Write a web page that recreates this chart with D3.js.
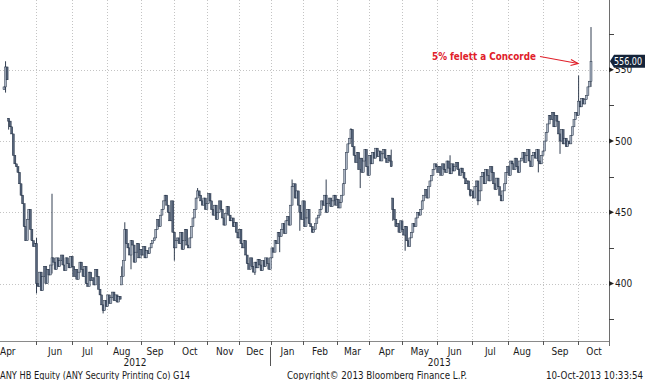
<!DOCTYPE html>
<html><head><meta charset="utf-8">
<script src="https://cdn.jsdelivr.net/npm/d3@7"></script>
<style>
html,body{margin:0;padding:0;background:#fff;}
svg{display:block;}
text{font-family:"DejaVu Sans Condensed","DejaVu Sans",sans-serif;}
</style></head>
<body><svg id="c" width="645" height="380"></svg>
<script>
// ---- data ----
const firstOpen = 536;
const closes = [
538,552,543,
514,510,505,490,484,
482,478,470,462,456,
440,430,445,452,438,
430,426,428,
400,
398,408,395,405,412,400,410,406,413,
418,
415,410,418,412,416,420,413,409,418,414,411,
419,412,405,410,403,408,415,
410,405,412,400,398,408,402,404,399,410,405,
396,392,385,381,388,384,392,386,
390,394,388,392,387,391,389,
405,416,438,428,
425,420,430,427,415,422,428,418,424,420,426,418,423,421,425,428,430,
432,438,445,440,448,452,458,462,455,
450,444,458,436,425,430,
432,428,436,424,430,438,427,425,432,
440,446,452,460,465,
462,458,455,460,452,456,463,458,
452,448,455,445,450,458,452,446,441,449,454,448,444,
446,440,443,436,432,438,428,425,430,420,
414,410,418,412,408,415,411,417,413,409,416,412,418,414,410,
418,425,422,430,428,436,433,
438,442,435,444,447,441,
455,468,470,460,465,455,
450,445,458,440,446,452,442,
440,436,438,442,446,
448,452,458,455,462,450,
456,460,454,458,462,455,459,453,457,462,
470,480,492,498,
502,508,496,
490,485,492,480,488,478,486,494,482,476,490,484,492,488,495,489,493,486,491,494,488,485,490,486,
482,
452,445,440,442,436,444,438,434,440,430,426,432,
436,442,440,446,450,448,
452,458,462,466,460,468,472,
476,480,484,482,
478,482,476,484,480,478,486,481,477,484,479,482,485,480,476,481,478,
474,470,472,466,462,465,460,
468,472,458,465,
475,478,470,480,476,472,482,478,470,466,474,
468,462,458,465,
470,478,482,476,486,
484,480,488,482,478,486,
488,492,485,490,494,486,482,490,
492,488,494,486,484,490,493,
500,506,512,518,
515,520,510,518,514,
505,500,508,498,502,496,500,498,504,
510,515,520,518,
528,524,530,526,529,532,
538,542,
556
];
// notable highs / lows: [bar, high, low]
const extremes = [
[1,556,534],[3,516,508],[21,432,393],[31,463,407],[64,null,379],[76,412,399],
[78,443,null],[82,null,410],[110,null,416],[125,467,null],[162,null,406],
[178,null,422],[186,473,null],[191,null,437],[208,473,null],[224,509,null],
[230,null,467],[250,494,null],[251,460,444],[259,null,423],[288,490,null],
[301,null,461],[306,null,455],[345,null,478],[359,null,491],[371,546,null],
[379,580,538]
];
const lastPrice = 556.00;
const monthLabels = ["Apr","Jun","Jul","Aug","Sep","Oct","Nov","Dec","Jan","Feb","Mar","Apr","May","Jun","Jul","Aug","Sep","Oct"];
const monthLabelBars = [3,33,54,76,97.5,120,142.5,162,183,204,225,247,268.5,291,314,334.5,359,381];
const monthGridBars = [20.7,43.9,66.5,88.4,109.7,131,151.7,172.4,193,215,235.6,257,279.5,302,325.4,348,370.6];
const yearLabels = ["2012","2013"];
const yearLabelBars = [84.6,281];
const yearSeparatorBar = 171.5;
const yMajor = [400,450,500,550];
const yMinor = [375,425,475,525,575];
const annotation = "5% felett a Concorde";
const footerLeft = "ANY HB Equity (ANY Security Printing Co) G14";
const footerMid = "Copyright\u00A9 2013 Bloomberg Finance L.P.";
const footerRight = "10-Oct-2013 10:33:54";

// ---- build ----
const N = closes.length;
const ext = new Map(extremes.map(e => [e[0], e]));
const bars = closes.map((c, i) => {
  const o = i === 0 ? firstOpen : closes[i-1];
  const e = ext.get(i);
  const hi = e && e[1] != null ? e[1] : Math.max(o, c);
  const lo = e && e[2] != null ? e[2] : Math.min(o, c);
  const top = Math.min(Math.max(o, c), hi);
  const bot = Math.max(Math.min(o, c), lo);
  return {i, o, c, hi, lo, top, bot, up: c >= o};
});

const svg = d3.select("#c");
const plotRight = 609, plotBottom = 341;
const x = d3.scaleLinear().domain([0, N-1]).range([4, 591]);
const y = d3.scaleLinear().domain([360, 599]).range([340.5, 0]);

// gridlines
const grid = svg.append("g").attr("stroke", "#c4c4c4").attr("stroke-width", 1).attr("stroke-dasharray", "1,2");
grid.selectAll("line.h").data(yMajor).join("line")
  .attr("x1", 0).attr("x2", plotRight).attr("y1", d => Math.round(y(d)) + 0.5).attr("y2", d => Math.round(y(d)) + 0.5);
grid.selectAll("line.v").data(monthGridBars).join("line")
  .attr("y1", 0).attr("y2", plotBottom).attr("x1", d => Math.round(x(d)) + 0.5).attr("x2", d => Math.round(x(d)) + 0.5);

// axes lines
svg.append("line").attr("x1", 0).attr("x2", plotRight).attr("y1", plotBottom + 0.5).attr("y2", plotBottom + 0.5)
  .attr("stroke", "#8a8a8a");
svg.append("line").attr("x1", plotRight + 0.5).attr("x2", plotRight + 0.5).attr("y1", 0).attr("y2", plotBottom + 5)
  .attr("stroke", "#6e6e6e");

// x ticks
svg.append("g").selectAll("line").data(monthGridBars).join("line")
  .attr("x1", d => Math.round(x(d)) + 0.5).attr("x2", d => Math.round(x(d)) + 0.5)
  .attr("y1", plotBottom).attr("y2", plotBottom + 4).attr("stroke", "#555");
svg.append("g").selectAll("text").data(monthLabels).join("text")
  .attr("x", (d, i) => i === 0 ? 0 : x(monthLabelBars[i]))
  .attr("text-anchor", (d, i) => i === 0 ? "start" : "middle")
  .attr("y", 355).attr("font-size", 10).attr("fill", "#1a1a1a").text(d => d);
svg.append("g").selectAll("text").data(yearLabels).join("text")
  .attr("x", (d, i) => x(yearLabelBars[i])).attr("text-anchor", "middle")
  .attr("y", 366).attr("font-size", 10).attr("fill", "#1a1a1a").text(d => d);
svg.append("line").attr("x1", Math.round(x(yearSeparatorBar)) + 0.5).attr("x2", Math.round(x(yearSeparatorBar)) + 0.5)
  .attr("y1", 347).attr("y2", 366).attr("stroke", "#555");

// y ticks
const yt = svg.append("g");
yt.selectAll("path").data(yMajor).join("path")
  .attr("d", d => `M${plotRight},${y(d)-2.5}L${plotRight+5},${y(d)}L${plotRight},${y(d)+2.5}Z`).attr("fill", "#222");
yt.selectAll("line").data(yMinor).join("line")
  .attr("x1", plotRight).attr("x2", plotRight + 5).attr("y1", d => Math.round(y(d)) + 0.5).attr("y2", d => Math.round(y(d)) + 0.5)
  .attr("stroke", "#444");
yt.selectAll("text").data(yMajor).join("text")
  .attr("x", 615).attr("y", d => y(d) + 3.6).attr("font-size", 10).attr("fill", "#1a1a1a").text(d => d);

// candles
const cg = svg.append("g");
cg.selectAll("line").data(bars).join("line")
  .attr("x1", d => x(d.i)).attr("x2", d => x(d.i))
  .attr("y1", d => y(d.hi)).attr("y2", d => y(d.lo))
  .attr("stroke", "#1d2a3e").attr("stroke-width", 0.9);
cg.selectAll("rect").data(bars).join("rect")
  .attr("x", d => x(d.i) - 1).attr("width", 2)
  .attr("y", d => y(d.top)).attr("height", d => Math.max(1, y(d.bot) - y(d.top)))
  .attr("fill", d => d.up ? "#a9b3c2" : "#56647a")
  .attr("stroke", "#1d2a3e").attr("stroke-width", 0.45);

// annotation
svg.append("text").attr("x", 432).attr("y", 60).attr("font-size", 11).attr("font-weight", "bold")
  .attr("fill", "#e0202a").attr("textLength", 104).attr("lengthAdjust", "spacingAndGlyphs").text(annotation);
svg.append("line").attr("x1", 540).attr("y1", 56.5).attr("x2", 578).attr("y2", 63.5)
  .attr("stroke", "#e0202a").attr("stroke-width", 1.2);
svg.append("path").attr("d", "M571,59.5L578,63.5L570.5,65.5").attr("fill", "none")
  .attr("stroke", "#e0202a").attr("stroke-width", 1.2);

// last price tag
const ly = y(lastPrice);
svg.append("path")
  .attr("d", `M${plotRight+1},${ly}L${plotRight+5},${ly-6.5}H645V${ly+6.5}H${plotRight+5}Z`)
  .attr("fill", "#15243a");
svg.append("text").attr("x", 614).attr("y", ly + 4).attr("font-size", 11).attr("fill", "#fff")
  .attr("textLength", 28).attr("lengthAdjust", "spacingAndGlyphs").text(lastPrice.toFixed(2));

// footer
const ft = svg.append("g").attr("font-size", 10).attr("fill", "#1a1a1a");
ft.append("text").attr("x", 0).attr("y", 379).attr("textLength", 190).attr("lengthAdjust", "spacingAndGlyphs").text(footerLeft);
ft.append("text").attr("x", 287).attr("y", 379).attr("textLength", 180).attr("lengthAdjust", "spacingAndGlyphs").text(footerMid);
ft.append("text").attr("x", 546).attr("y", 379).attr("textLength", 97).attr("lengthAdjust", "spacingAndGlyphs").text(footerRight);
</script></body></html>
